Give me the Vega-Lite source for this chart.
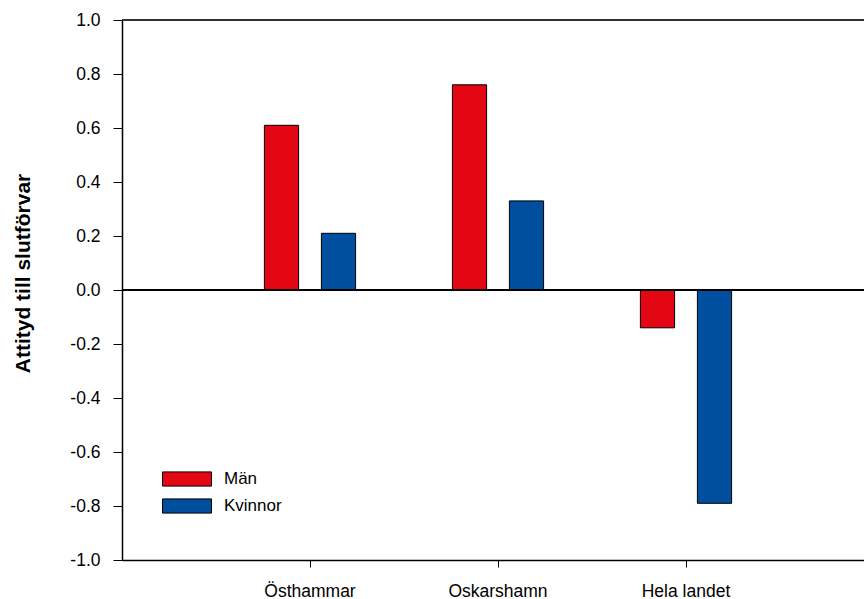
{
  "$schema": "https://vega.github.io/schema/vega-lite/v6.json",
  "autosize": {"type": "none"},
  "padding": {"left": 122, "top": 20, "right": 0, "bottom": 39},
  "width": 742,
  "height": 540,
  "background": "white",
  "config": {
    "view": {"stroke": null},
    "font": "Liberation Sans",
    "axis": {
      "domainColor": "black",
      "tickColor": "black",
      "labelColor": "black",
      "labelFont": "Liberation Sans",
      "labelFontSize": 17.5,
      "grid": false
    }
  },
  "data": {
    "values": [
      {"ort": "Östhammar", "kon": "Män", "v": 0.61},
      {"ort": "Östhammar", "kon": "Kvinnor", "v": 0.21},
      {"ort": "Oskarshamn", "kon": "Män", "v": 0.76},
      {"ort": "Oskarshamn", "kon": "Kvinnor", "v": 0.33},
      {"ort": "Hela landet", "kon": "Män", "v": -0.14},
      {"ort": "Hela landet", "kon": "Kvinnor", "v": -0.79}
    ]
  },
  "layer": [
    {
      "mark": {"type": "bar", "stroke": "black", "strokeWidth": 1},
      "encoding": {
        "x": {
          "field": "ort",
          "type": "nominal",
          "sort": ["Östhammar", "Oskarshamn", "Hela landet"],
          "scale": {"type": "band", "paddingInner": 0, "paddingOuter": 0.5, "range": [0, 752]},
          "axis": {"title": null, "labelAngle": 0, "tickSize": 7, "labelPadding": 15, "domainWidth": 1.5}
        },
        "xOffset": {
          "field": "kon",
          "type": "nominal",
          "sort": ["Män", "Kvinnor"],
          "scale": {"paddingInner": 0.4, "paddingOuter": 0.849}
        },
        "y": {
          "field": "v",
          "type": "quantitative",
          "scale": {"domain": [-1, 1], "nice": false, "zero": false},
          "axis": {
            "title": "Attityd till slutförvar",
            "titleFont": "Liberation Sans",
            "titleFontSize": 21,
            "titleFontWeight": "bold",
            "titleColor": "black",
            "titlePadding": 36,
            "titleY": 253,
            "values": [-1, -0.8, -0.6, -0.4, -0.2, 0, 0.2, 0.4, 0.6, 0.8, 1],
            "labelExpr": "replace(format(datum.value, '.1f'), '−', '-')",
            "tickSize": 9,
            "labelPadding": 13,
            "domainWidth": 1.5
          }
        },
        "fill": {
          "field": "kon",
          "type": "nominal",
          "sort": ["Män", "Kvinnor"],
          "scale": {"domain": ["Män", "Kvinnor"], "range": ["#E30613", "#004F9F"]},
          "legend": {
            "orient": "none",
            "legendX": 40,
            "legendY": 451,
            "title": null,
            "padding": 0,
            "symbolType": "M-1,-0.29H1V0.29H-1Z",
            "symbolSize": 2401,
            "symbolStrokeColor": "black",
            "symbolStrokeWidth": 1,
            "symbolOpacity": 1,
            "labelFontSize": 17,
            "labelFont": "Liberation Sans",
            "labelColor": "black",
            "labelOffset": 12,
            "clipHeight": 16,
            "rowPadding": 10
          }
        }
      }
    },
    {
      "mark": {"type": "rule", "color": "black", "strokeWidth": 1.5},
      "encoding": {"y": {"datum": 0}}
    },
    {
      "mark": {"type": "rule", "color": "#333333", "strokeWidth": 1.5},
      "encoding": {"y": {"datum": 1}}
    }
  ]
}
